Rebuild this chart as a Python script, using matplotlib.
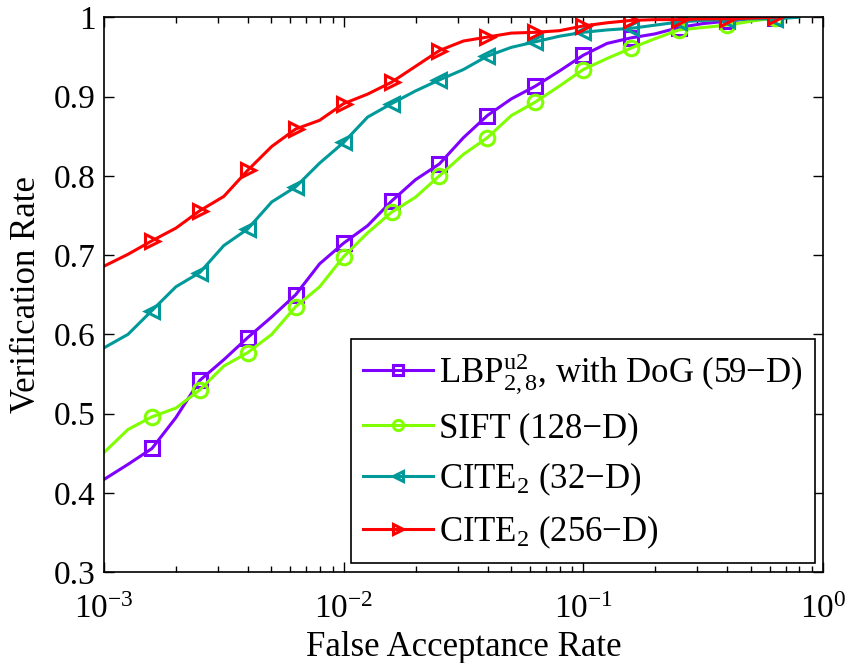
import matplotlib
matplotlib.use("Agg")
import matplotlib.pyplot as plt
import numpy as np

plt.rcParams.update({
    "font.family": "Liberation Serif",
    "mathtext.fontset": "custom",
    "mathtext.rm": "Liberation Serif",
    "mathtext.it": "Liberation Serif:italic",
    "mathtext.bf": "Liberation Serif:bold",
    "axes.linewidth": 1.2,
    "xtick.direction": "in",
    "ytick.direction": "in",
    "xtick.top": True,
    "ytick.right": True,
})

# FAR sampled at log10 steps of 0.1
LOG_FAR = [-3.0, -2.9, -2.8, -2.7, -2.6, -2.5, -2.4, -2.3, -2.2, -2.1,
           -2.0, -1.9, -1.8, -1.7, -1.6, -1.5, -1.4, -1.3, -1.2, -1.1,
           -1.0, -0.9, -0.8, -0.7, -0.6, -0.5, -0.4, -0.3, -0.2, -0.1]

LBP = [0.417, 0.436, 0.456, 0.495, 0.542, 0.568, 0.596, 0.622, 0.650, 0.689,
       0.715, 0.737, 0.768, 0.795, 0.815, 0.848, 0.876, 0.897, 0.913, 0.932,
       0.952, 0.967, 0.974, 0.979, 0.987, 0.992, 0.995, 0.998, 0.999]
SIFT = [0.451, 0.480, 0.496, 0.507, 0.530, 0.560, 0.577, 0.600, 0.635, 0.660,
        0.698, 0.728, 0.754, 0.773, 0.800, 0.827, 0.848, 0.876, 0.893, 0.913,
        0.934, 0.948, 0.961, 0.973, 0.984, 0.987, 0.990, 0.995, 0.999]
CITE32 = [0.583, 0.600, 0.630, 0.660, 0.678, 0.712, 0.733, 0.767, 0.786, 0.816,
          0.842, 0.874, 0.891, 0.907, 0.921, 0.934, 0.951, 0.962, 0.969, 0.976,
          0.981, 0.984, 0.986, 0.990, 0.994, 0.996, 0.997, 0.998, 0.998, 1.000]
CITE256 = [0.686, 0.701, 0.718, 0.734, 0.756, 0.774, 0.807, 0.837, 0.859, 0.870,
           0.891, 0.903, 0.918, 0.938, 0.958, 0.970, 0.975, 0.980, 0.981, 0.983,
           0.989, 0.993, 0.996, 0.997, 0.997, 0.998, 0.998, 0.999, 1.000]

LABELS = ["LBP$^{\\rm u2}_{2,8}$, with DoG (59\u2212D)",
          "SIFT (128\u2212D)",
          "CITE$_2$ (32\u2212D)",
          "CITE$_2$ (256\u2212D)"]

SERIES = [
    (LBP, "#7F00FF", "s", LABELS[0]),
    (SIFT, "#80FF00", "o", LABELS[1]),
    (CITE32, "#009999", "<", LABELS[2]),
    (CITE256, "#FF0000", ">", LABELS[3]),
]

fig = plt.figure(figsize=(8.5, 6.63), dpi=100)
ax = fig.add_axes([0.1224, 0.137, 0.8455, 0.837])

for ys, color, marker, label in SERIES:
    xs = 10.0 ** np.array(LOG_FAR[:len(ys)])
    ax.plot(xs, ys, color=color, lw=2.2, marker=marker, ms=10.5,
            mfc="none", mew=2.2, markevery=slice(2, None, 2), label=label)

ax.set_xscale("log")
ax.set_xlim(1e-3, 1)
ax.set_ylim(0.3, 1)
ax.set_yticks(np.arange(0.3, 1.01, 0.1))
ax.set_yticklabels(["0.3", "0.4", "0.5", "0.6", "0.7", "0.8", "0.9", "1"])
ax.tick_params(which="major", length=7, width=1.0, labelsize=24, pad=6)
ax.tick_params(axis="x", which="major", pad=16)
ax.tick_params(which="minor", length=4, width=1.0)
ax.set_xlabel("False Acceptance Rate", fontsize=25, labelpad=4)
ax.set_ylabel("Verification Rate", fontsize=25, labelpad=8)

leg = ax.legend(loc="lower right", bbox_to_anchor=(0.989, 0.016),
                fontsize=25, fancybox=False, framealpha=1, edgecolor="black",
                handlelength=2.0, handletextpad=0.2, labelspacing=0.45,
                borderpad=0.35, markerscale=0.7, borderaxespad=0)
leg.get_frame().set_linewidth(1.2)

fig.savefig("out.png", dpi=100)
